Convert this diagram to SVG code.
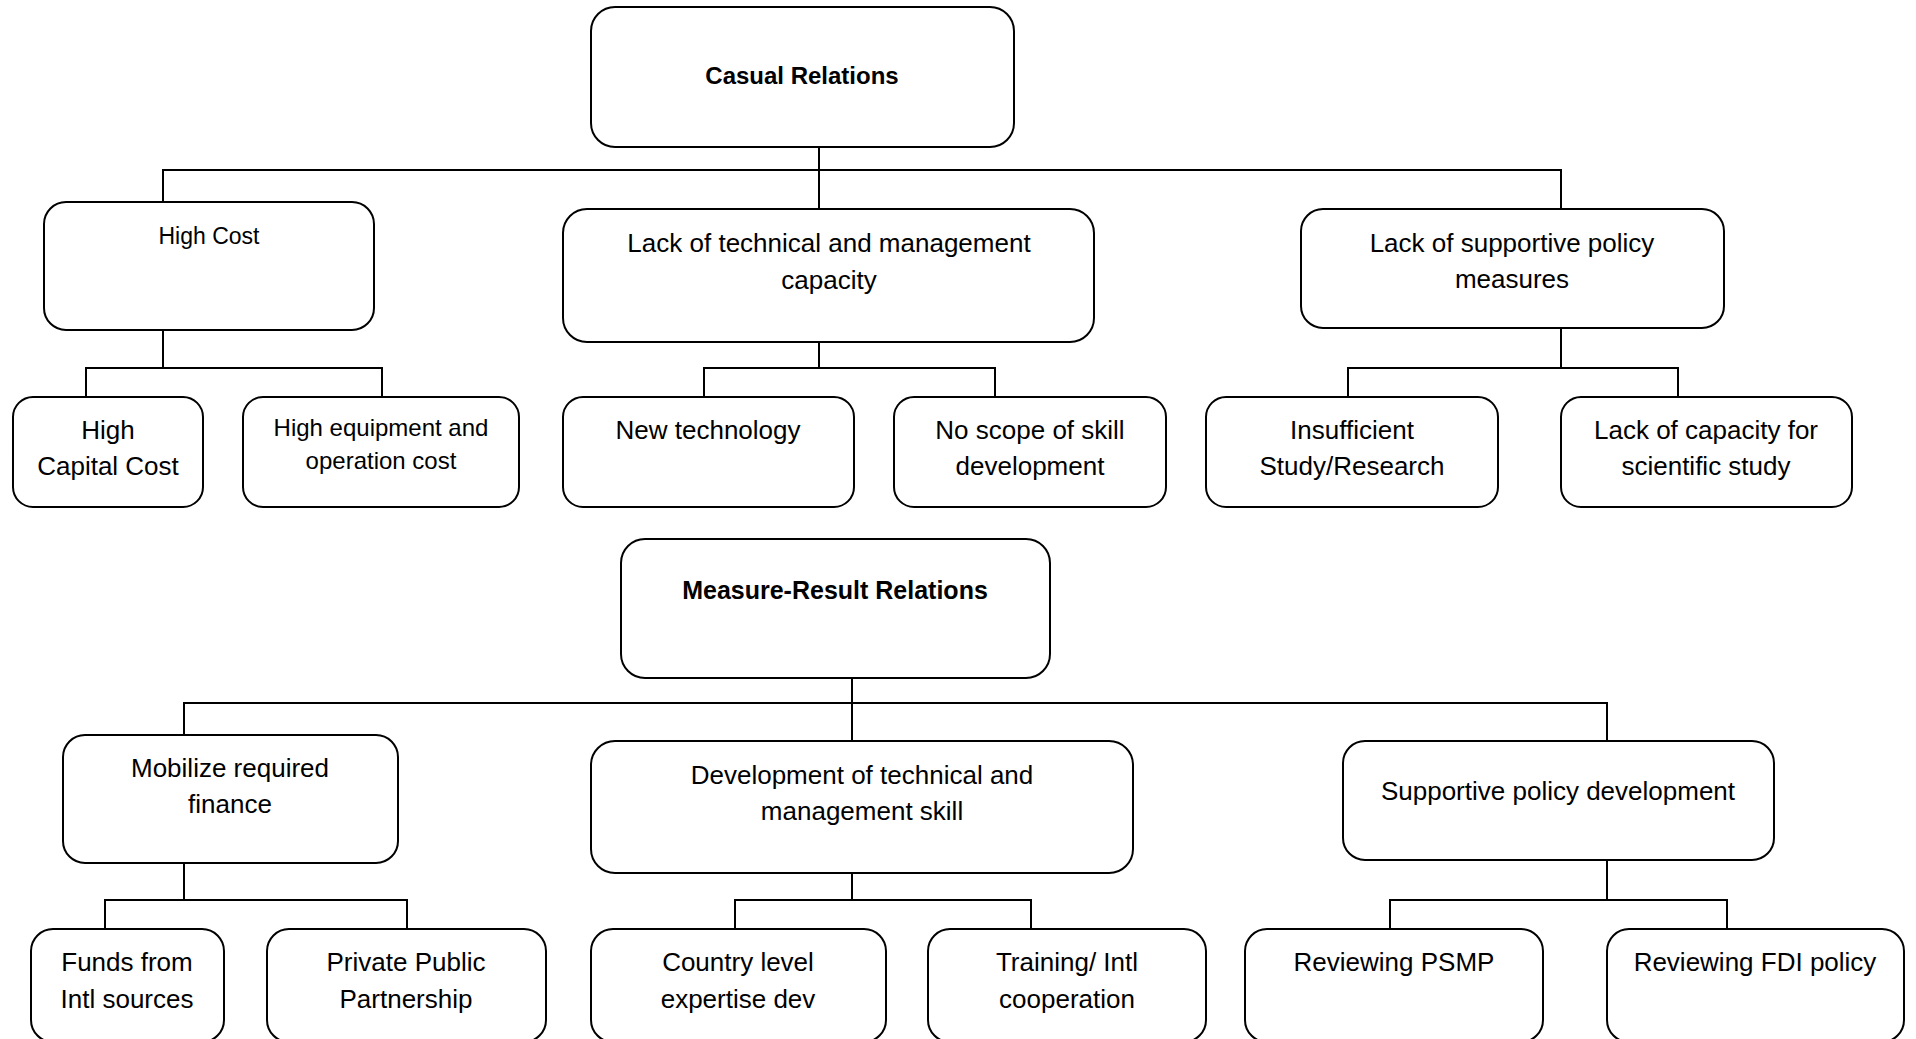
<svg xmlns="http://www.w3.org/2000/svg" width="1916" height="1039" viewBox="0 0 1916 1039">
<style>
.box{fill:#fff;stroke:#000;stroke-width:2}
.t{font-family:"Liberation Sans",Arial,sans-serif;font-size:26px;fill:#000;text-anchor:middle}
.b{font-weight:bold;font-size:24px}
.s{font-size:23px}
.m{font-size:24px}
.c{fill:none;stroke:#000;stroke-width:2}
</style>
<rect width="1916" height="1039" fill="#fff"/>
<g id="connectors">
<path class="c" d="M819 147V209M163 202V170H1561V209"/>
<path class="c" d="M163 330V368M86 397V368H382V397"/>
<path class="c" d="M819 342V368M704 397V368H995V397"/>
<path class="c" d="M1561 328V368M1348 397V368H1678V397"/>
<path class="c" d="M852 678V741M184 735V703H1607V741"/>
<path class="c" d="M184 863V900M105 929V900H407V929"/>
<path class="c" d="M852 873V900M735 929V900H1031V929"/>
<path class="c" d="M1607 860V900M1390 929V900H1727V929"/>
</g>
<g id="casual">
<rect class="box" x="591" y="7" width="423" height="140" rx="24"/>
<text class="t b" x="802" y="84">Casual Relations</text>
</g>
<g id="high-cost">
<rect class="box" x="44" y="202" width="330" height="128" rx="22"/>
<text class="t s" x="209" y="244">High Cost</text>
</g>
<g id="lack-tech">
<rect class="box" x="563" y="209" width="531" height="133" rx="24"/>
<text class="t" x="829" y="252">Lack of technical and management</text>
<text class="t" x="829" y="289">capacity</text>
</g>
<g id="lack-policy">
<rect class="box" x="1301" y="209" width="423" height="119" rx="22"/>
<text class="t" x="1512" y="252">Lack of supportive policy</text>
<text class="t" x="1512" y="288">measures</text>
</g>
<g id="high-capital">
<rect class="box" x="13" y="397" width="190" height="110" rx="20"/>
<text class="t" x="108" y="439">High</text>
<text class="t" x="108" y="475">Capital Cost</text>
</g>
<g id="high-equip">
<rect class="box" x="243" y="397" width="276" height="110" rx="20"/>
<text class="t m" x="381" y="436">High equipment and</text>
<text class="t m" x="381" y="469">operation cost</text>
</g>
<g id="new-tech">
<rect class="box" x="563" y="397" width="291" height="110" rx="20"/>
<text class="t" x="708" y="439">New technology</text>
</g>
<g id="no-scope">
<rect class="box" x="894" y="397" width="272" height="110" rx="20"/>
<text class="t" x="1030" y="439">No scope of skill</text>
<text class="t" x="1030" y="475">development</text>
</g>
<g id="insufficient">
<rect class="box" x="1206" y="397" width="292" height="110" rx="20"/>
<text class="t" x="1352" y="439">Insufficient</text>
<text class="t" x="1352" y="475">Study/Research</text>
</g>
<g id="lack-capacity">
<rect class="box" x="1561" y="397" width="291" height="110" rx="20"/>
<text class="t" x="1706" y="439">Lack of capacity for</text>
<text class="t" x="1706" y="475">scientific study</text>
</g>
<g id="measure">
<rect class="box" x="621" y="539" width="429" height="139" rx="24"/>
<text class="t b" x="835" y="599" style="font-size:25px">Measure-Result Relations</text>
</g>
<g id="mobilize">
<rect class="box" x="63" y="735" width="335" height="128" rx="22"/>
<text class="t" x="230" y="777">Mobilize required</text>
<text class="t" x="230" y="813">finance</text>
</g>
<g id="dev-skill">
<rect class="box" x="591" y="741" width="542" height="132" rx="24"/>
<text class="t" x="862" y="784">Development of technical and</text>
<text class="t" x="862" y="820">management skill</text>
</g>
<g id="policy-dev">
<rect class="box" x="1343" y="741" width="431" height="119" rx="22"/>
<text class="t" x="1558" y="800">Supportive policy development</text>
</g>
<g id="funds">
<rect class="box" x="31" y="929" width="193" height="113" rx="22"/>
<text class="t" x="127" y="971">Funds from</text>
<text class="t" x="127" y="1008">Intl sources</text>
</g>
<g id="ppp">
<rect class="box" x="267" y="929" width="279" height="113" rx="22"/>
<text class="t" x="406" y="971">Private Public</text>
<text class="t" x="406" y="1008">Partnership</text>
</g>
<g id="country">
<rect class="box" x="591" y="929" width="295" height="113" rx="22"/>
<text class="t" x="738" y="971">Country level</text>
<text class="t" x="738" y="1008">expertise dev</text>
</g>
<g id="training">
<rect class="box" x="928" y="929" width="278" height="113" rx="22"/>
<text class="t" x="1067" y="971">Training/ Intl</text>
<text class="t" x="1067" y="1008">cooperation</text>
</g>
<g id="psmp">
<rect class="box" x="1245" y="929" width="298" height="113" rx="22"/>
<text class="t" x="1394" y="971">Reviewing PSMP</text>
</g>
<g id="fdi">
<rect class="box" x="1607" y="929" width="297" height="113" rx="22"/>
<text class="t" x="1755" y="971">Reviewing FDI policy</text>
</g>
</svg>
